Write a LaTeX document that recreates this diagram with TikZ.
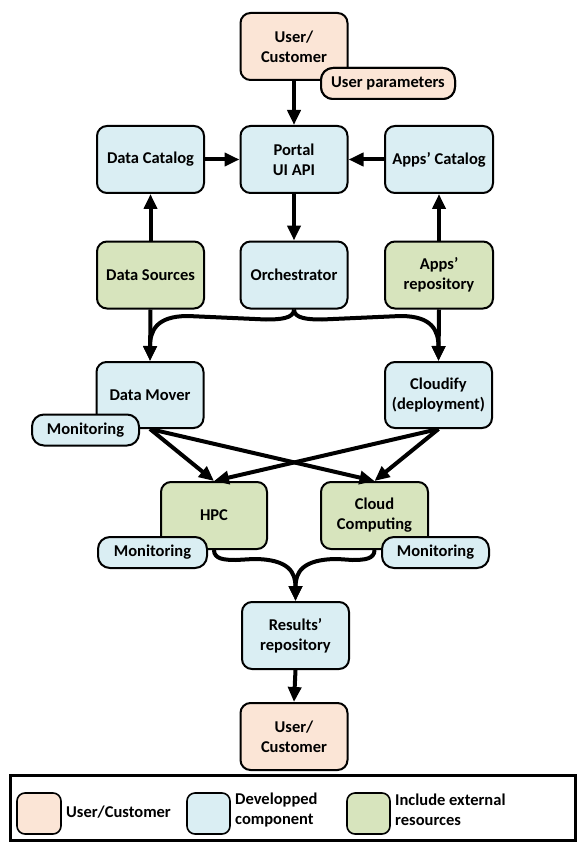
\documentclass[tikz,border=0pt]{standalone}
\usepackage{fontspec}
\setmainfont{Carlito}
\usetikzlibrary{arrows.meta,calc}
\definecolor{peach}{HTML}{FBE5D6}
\definecolor{lblue}{HTML}{DAEEF3}
\definecolor{lgreen}{HTML}{D7E4BD}
\tikzset{
  box/.style={draw=black, line width=2pt, rounded corners=10pt, minimum width=107pt, minimum height=67pt, align=center, inner sep=2pt, font=\fontsize{16.5}{20}\selectfont\bfseries},
  userbox/.style={box, fill=peach},
  devbox/.style={box, fill=lblue},
  extbox/.style={box, fill=lgreen},
  tagbox/.style={draw=black, line width=2pt, rounded corners=12pt, minimum width=107pt, minimum height=31pt, inner sep=2pt, font=\fontsize{16.5}{20}\selectfont\bfseries},
  arr/.style={line width=4pt, -{Triangle[length=15pt,width=13pt]}},
  swatch/.style={draw=black, line width=1.6pt, rounded corners=8pt},
  legtext/.style={anchor=west, align=left, inner sep=0pt, font=\fontsize{16.5}{20}\selectfont\bfseries}
}
\begin{document}
\begin{tikzpicture}[x=1pt,y=-1pt]
\useasboundingbox (0,0) rectangle (577,842);
% nodes
\node[userbox] (userTop) at (294,46.5) {User/\\Customer};
\node[tagbox, fill=peach, minimum width=134pt] (params) at (388,83.5) {User parameters};
\node[devbox] (dcat) at (150.5,159.5) {Data Catalog};
\node[devbox] (portal) at (294,159.5) {Portal\\UI API};
\node[devbox, minimum width=108pt] (acat) at (439,159.5) {Apps’ Catalog};
\node[extbox] (dsrc) at (150.5,275) {Data Sources};
\node[devbox] (orch) at (294,275) {Orchestrator};
\node[extbox, minimum width=108pt] (arepo) at (439,275) {Apps’\\repository};
\node[devbox, minimum height=66pt] (dmover) at (150,395) {Data Mover};
\node[tagbox, fill=lblue] (mon1) at (85.5,430) {Monitoring};
\node[devbox, minimum height=66pt] (cloudify) at (438.5,395) {Cloudify\\(deployment)};
\node[extbox, minimum width=106pt] (hpc) at (214,515.5) {HPC};
\node[tagbox, fill=lblue, minimum width=109pt] (mon2) at (152.5,552.5) {Monitoring};
\node[extbox, minimum width=107pt] (cc) at (374.5,515.5) {Cloud\\Computing};
\node[tagbox, fill=lblue] (mon3) at (435.5,552.5) {Monitoring};
\node[devbox] (results) at (295.5,635.5) {Results’\\repository};
\node[userbox] (userBot) at (294,736.5) {User/\\Customer};
% straight arrows
\draw[arr] (userTop.south) -- (portal.north);
\draw[arr] (dcat.east) -- (portal.west);
\draw[arr] (acat.west) -- (portal.east);
\draw[arr] (dsrc.north) -- (dcat.south);
\draw[arr] (arepo.north) -- (acat.south);
\draw[arr] (portal.south) -- (orch.north);
\draw[arr] (dsrc.south) -- (dmover.north);
\draw[arr] (arepo.south) -- (cloudify.north);
% orchestrator brace
\coordinate (oL) at ($(orch.south)+(-28,10)$);
\coordinate (oR) at ($(orch.south)+(28,10)$);
\coordinate (dL) at ($(dmover.north)+(38,-45)$);
\coordinate (dR) at ($(cloudify.north)+(-38,-45)$);
\draw[arr] (orch.south) .. controls +(0,9) and +(14,0) .. (oL) -- (dL) .. controls +(-32,0) and +(0,-30) .. (dmover.north);
\draw[arr] (orch.south) .. controls +(0,9) and +(-14,0) .. (oR) -- (dR) .. controls +(32,0) and +(0,-30) .. (cloudify.north);
% cross arrows
\draw[arr] (dmover.south) -- (hpc.north);
\draw[arr] (dmover.south) -- (cc.north);
\draw[arr] (cloudify.south) -- (hpc.north);
\draw[arr] (cloudify.south) -- (cc.north);
% merge to results
\coordinate (hL) at ($(hpc.south)+(22,10)$);
\coordinate (hR) at ($(results.north)+(-42,-42)$);
\coordinate (cL) at ($(cc.south)+(-22,10)$);
\coordinate (cR) at ($(results.north)+(42,-42)$);
\draw[arr] (hpc.south) .. controls +(0,9) and +(-12,0) .. (hL) -- (hR) .. controls +(36,0) and +(0,-28) .. (results.north);
\draw[arr] (cc.south) .. controls +(0,9) and +(12,0) .. (cL) -- (cR) .. controls +(-36,0) and +(0,-28) .. (results.north);
\draw[arr] (results.south) -- (userBot.north);
% redraw tags on top
\node[tagbox, fill=peach, minimum width=134pt] at (params) {User parameters};
% legend
\node[draw=black, line width=3pt, minimum width=565pt, minimum height=65pt, inner sep=0pt] (legend) at (292.5,807.5) {};
\node[swatch, fill=peach, minimum width=44pt, minimum height=41pt] (sw1) at (39,813.5) {};
\node[legtext] (lt1) at (66,812) {User/Customer};
\node[swatch, fill=lblue, minimum width=43pt, minimum height=41pt] (sw2) at (208.5,813.5) {};
\node[legtext] (lt2) at (235,810) {Developped\\component};
\node[swatch, fill=lgreen, minimum width=43pt, minimum height=41pt] (sw3) at (368.5,813.5) {};
\node[legtext] (lt3) at (395,810) {Include external\\resources};
\end{tikzpicture}
\end{document}
